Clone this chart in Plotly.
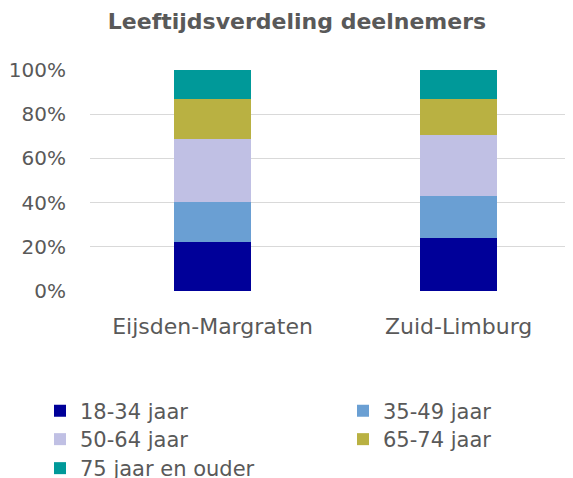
import plotly.graph_objects as go

categories = ["Eijsden-Margraten", "Zuid-Limburg"]
series_names = ["18-34 jaar", "35-49 jaar", "50-64 jaar", "65-74 jaar", "75 jaar en ouder"]
v_18_34 = [22.3, 23.8]
v_35_49 = [17.9, 19.1]
v_50_64 = [28.5, 27.6]
v_65_74 = [18.0, 16.4]
v_75_plus = [13.3, 13.1]
colors = ["#000099", "#6A9FD3", "#C0C0E4", "#B9B142", "#009999"]
tick_vals = [0, 20, 40, 60, 80, 100]
tick_text = ["0%", "20%", "40%", "60%", "80%", "100%"]

FONT = "DejaVu Sans"
GREY = "#595959"
W, H = 565, 470  # page body has an 8px default margin

# legend slot layout: (left px, top px) for each entry, two columns
legend_slots = [(32, 382.7), (335, 382.7), (32, 411), (335, 411), (32, 440)]
legend_ids = ["legend", "legend2", "legend3", "legend4", "legend5"]

fig = go.Figure()
for name, vals, col, lg in zip(series_names, [v_18_34, v_35_49, v_50_64, v_65_74, v_75_plus], colors, legend_ids):
    fig.add_trace(go.Bar(x=categories, y=vals, name=name, marker=dict(color=col, line=dict(width=0)),
                         width=0.313, legend=lg))

def leg(left_px, top_px):
    return dict(orientation="v", xref="container", x=left_px / W, xanchor="left",
                yref="container", y=1 - top_px / H, yanchor="top",
                font=dict(size=21, color=GREY), itemwidth=30, bgcolor="rgba(0,0,0,0)")

legends = {lid: leg(*slot) for lid, slot in zip(legend_ids, legend_slots)}

fig.update_layout(
    barmode="stack",
    width=W, height=H,
    margin=dict(l=82, r=0, t=62, b=187, pad=0, autoexpand=False),
    paper_bgcolor="white", plot_bgcolor="white",
    font=dict(family=FONT, color=GREY, size=20),
    title=dict(text="<b>Leeftijdsverdeling deelnemers</b>", font=dict(family=FONT, size=22, color=GREY),
               xref="container", x=289 / W, xanchor="center", yref="container", y=1 - 13 / H,
               yanchor="middle"),
    xaxis=dict(type="category", range=[-0.498, 1.465], showgrid=False, showline=False, zeroline=False,
               tickfont=dict(size=22, color=GREY), ticklabelstandoff=20),
    yaxis=dict(range=[0, 100], tickvals=tick_vals, ticktext=tick_text, showgrid=True,
               gridcolor="#d9d9d9", gridwidth=1, zeroline=False, showline=False,
               tickfont=dict(size=20, color=GREY), ticklabelstandoff=23),
    showlegend=True,
    **legends,
)

fig.write_html("out.html")
